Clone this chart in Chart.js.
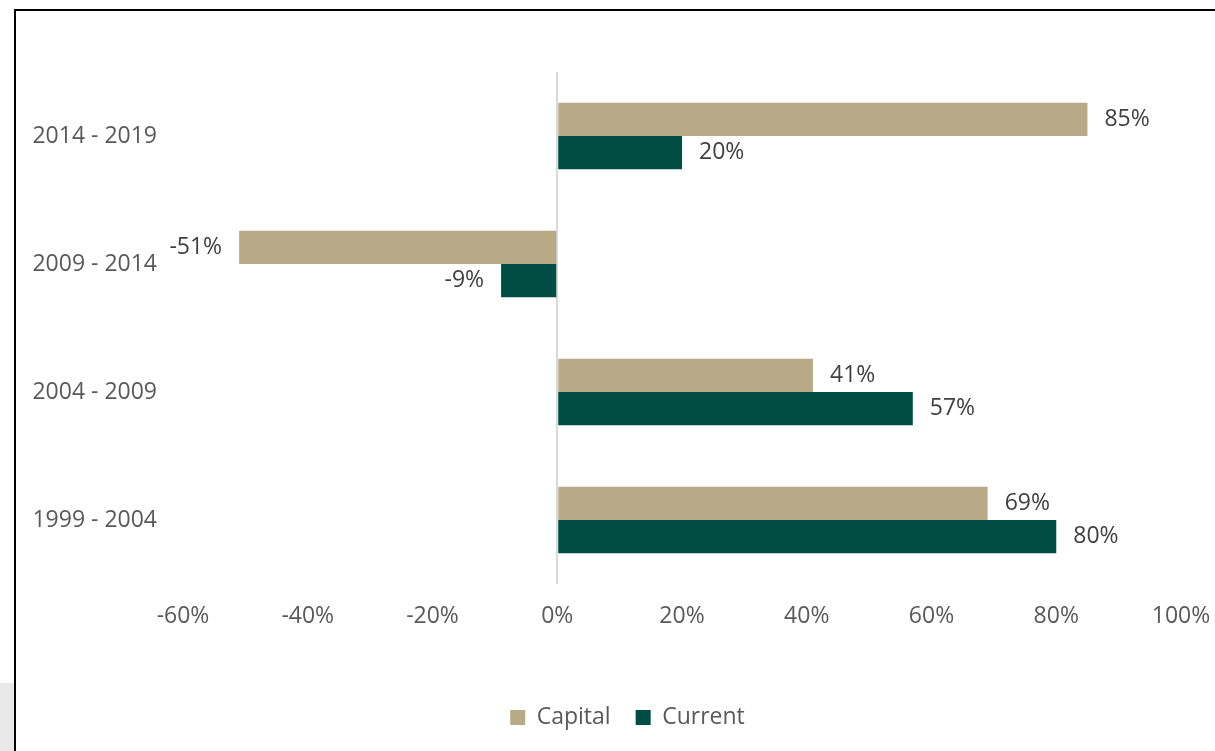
<!DOCTYPE html>
<html>
<head>
<meta charset="utf-8">
<script src="https://cdn.jsdelivr.net/npm/chart.js@4"></script>
<style>
  html, body { margin: 0; padding: 0; background: #fff; }
  #wrap { position: relative; width: 1215px; height: 751px; overflow: hidden; }
  #chart { position: absolute; left: 0; top: 0; }
  #frame {
    position: absolute; left: 14px; top: 9px; width: 1300px; height: 1000px;
    border: 2px solid #000; pointer-events: none;
  }
  #shade { position: absolute; left: 0; top: 683px; width: 14px; height: 80px; background: #e9e9e9; }
</style>
</head>
<body>
<div id="wrap">
  <div id="shade"></div>
  <canvas id="chart" width="1215" height="751"></canvas>
  <div id="frame"></div>
</div>
<script>
// Periods, top to bottom
const periods = ['2014 - 2019', '2009 - 2014', '2004 - 2009', '1999 - 2004'];

// Growth values (%)
const capitalValues = [85, -51, 41, 69];
const currentValues = [20, -9, 57, 80];

// X axis range / ticks (%)
const xMin = -60;
const xMax = 100;
const xStep = 20;

const COLORS = {
  capital: '#B9AA87',
  current: '#004D43',
  axisText: '#595959',
  labelText: '#404040',
  zeroLine: '#D9D9D9'
};

const FONT = { family: '"Open Sans", sans-serif', size: 23 };

// Draw value labels next to bar ends
const valueLabels = {
  id: 'valueLabels',
  afterDatasetsDraw(chart) {
    const ctx = chart.ctx;
    ctx.save();
    ctx.font = `${FONT.size}px ${FONT.family}`;
    ctx.fillStyle = COLORS.labelText;
    ctx.textBaseline = 'middle';
    chart.data.datasets.forEach((ds, i) => {
      const meta = chart.getDatasetMeta(i);
      meta.data.forEach((bar, j) => {
        const v = ds.data[j];
        if (v >= 0) {
          ctx.textAlign = 'left';
          ctx.fillText(v + '%', bar.x + 17, bar.y);
        } else {
          ctx.textAlign = 'right';
          ctx.fillText(v + '%', bar.x - 17, bar.y);
        }
      });
    });
    ctx.restore();
  }
};

// Legend in the original sits a bit right of the canvas centre
const legendShift = {
  id: 'legendShift',
  afterLayout(chart) {
    const lg = chart.legend;
    if (!lg) return;
    lg.left += 30;
    lg.right += 30;
  }
};

new Chart(document.getElementById('chart').getContext('2d'), {
  type: 'bar',
  data: {
    labels: periods,
    datasets: [
      {
        label: 'Capital',
        data: capitalValues,
        backgroundColor: COLORS.capital,
        categoryPercentage: 0.52,
        barPercentage: 1
      },
      {
        label: 'Current',
        data: currentValues,
        backgroundColor: COLORS.current,
        categoryPercentage: 0.52,
        barPercentage: 1
      }
    ]
  },
  options: {
    indexAxis: 'y',
    responsive: false,
    animation: false,
    layout: { padding: { top: 72, right: 34, bottom: 12, left: 14 } },
    scales: {
      x: {
        min: xMin,
        max: xMax,
        border: { display: false },
        grid: {
          drawTicks: false,
          lineWidth: 2,
          color: (c) => (c.tick && c.tick.value === 0 ? COLORS.zeroLine : 'rgba(0,0,0,0)')
        },
        ticks: {
          stepSize: xStep,
          padding: 19,
          color: COLORS.axisText,
          font: FONT,
          maxRotation: 0,
          callback: (v) => v + '%'
        },
        afterFit(axis) {
          axis.height = 97;
          axis.paddingLeft = 0;
          axis.paddingRight = 0;
        }
      },
      y: {
        border: { display: false },
        grid: { display: false, drawTicks: false },
        ticks: { padding: 26, color: COLORS.axisText, font: FONT },
        afterFit(axis) {
          axis.width = 169;
          axis.paddingTop = 0;
          axis.paddingBottom = 0;
        }
      }
    },
    plugins: {
      legend: {
        position: 'bottom',
        labels: {
          boxWidth: 15,
          boxHeight: 15,
          padding: 25,
          color: COLORS.axisText,
          font: FONT
        }
      },
      tooltip: { enabled: false }
    }
  },
  plugins: [valueLabels, legendShift]
});
</script>
</body>
</html>
